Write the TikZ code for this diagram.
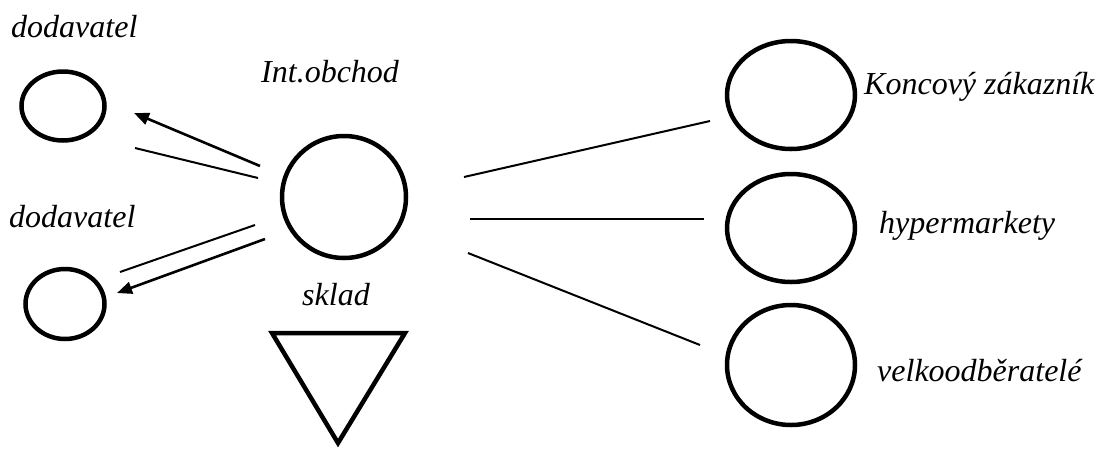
\documentclass[tikz,border=0pt]{standalone}
\usepackage{fontspec}
\setmainfont{Liberation Serif}
\usetikzlibrary{shapes.geometric,arrows.meta}
\begin{document}
\begin{tikzpicture}[x=1pt,y=-1pt,
  lbl/.style={anchor=base west,inner sep=0pt,font=\fontsize{32}{36}\selectfont\itshape},
  ell/.style={draw,ellipse,line width=4.5pt,inner sep=0pt},
  conn/.style={line width=2pt},
  arr/.style={line width=2.6pt,-{Triangle[length=15pt,width=12pt]}}]
\useasboundingbox (0,0) rectangle (1098,448);
% shapes
\node[ell,minimum width=83pt,minimum height=69pt] (d1) at (63,106) {};
\node[ell,minimum width=79pt,minimum height=70pt] (d2) at (65,304) {};
\node[ell,minimum width=124pt,minimum height=122pt] (io) at (344,197) {};
\node[ell,minimum width=128pt,minimum height=108pt] (kz) at (791,95) {};
\node[ell,minimum width=128pt,minimum height=108pt] (hm) at (791,228) {};
\node[ell,minimum width=128pt,minimum height=120pt] (vo) at (791,365) {};
\draw[line width=4.5pt,line join=miter] (272,333) coordinate (s1) -- (405,333) coordinate (s2) -- (338,443) coordinate (s3) -- cycle;
% labels
\node[lbl] (t1) at (11,37) {dodavatel};
\node[lbl] (t2) at (9,227) {dodavatel};
\node[lbl] (t3) at (261,82) {Int.obchod};
\node[lbl] (t4) at (302,305) {sklad};
\node[lbl] (t5) at (864,94) {Koncový zákazník};
\node[lbl] (t6) at (879,233) {hypermarkety};
\node[lbl] (t7) at (877,381) {velkoodběratelé};
% connector ends
\coordinate (a1s) at (260,166); \coordinate (a1e) at (134,113);
\coordinate (l1s) at (258,178); \coordinate (l1e) at (135,148);
\coordinate (l2s) at (255,225); \coordinate (l2e) at (120,272);
\coordinate (a2s) at (265,239); \coordinate (a2e) at (117,293);
\coordinate (r1s) at (464,177); \coordinate (r1e) at (710,121);
\coordinate (r2s) at (470,219); \coordinate (r2e) at (704,219);
\coordinate (r3s) at (468,253); \coordinate (r3e) at (700,345);
\draw[arr] (a1s) -- (a1e);
\draw[conn] (l1s) -- (l1e);
\draw[conn] (l2s) -- (l2e);
\draw[arr] (a2s) -- (a2e);
\draw[conn] (r1s) -- (r1e);
\draw[conn] (r2s) -- (r2e);
\draw[conn] (r3s) -- (r3e);
\end{tikzpicture}
\end{document}
